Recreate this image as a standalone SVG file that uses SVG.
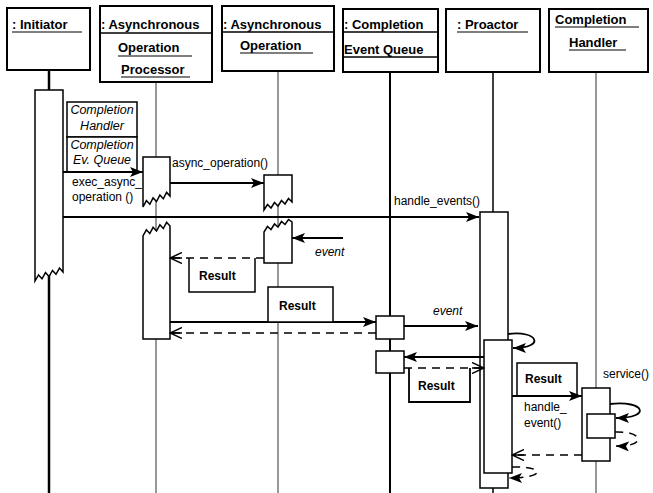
<svg xmlns="http://www.w3.org/2000/svg" width="653" height="493" viewBox="0 0 653 493">
<style>
.box{fill:#fff;stroke:#000;stroke-width:2}
.act{fill:#fff;stroke:#000;stroke-width:1.5}
.ln{fill:none;stroke:#000}
.thin{fill:none;stroke:#333;stroke-width:1}
.msg{fill:none;stroke:#000;stroke-width:1.8}
.ret{fill:none;stroke:#000;stroke-width:1.5;stroke-dasharray:8,6}
.h{font-family:"Liberation Sans",Arial,sans-serif;font-size:13px;font-weight:bold;fill:#000}
.t{font-family:"Liberation Sans",Arial,sans-serif;font-size:12px;fill:#000}
.i{font-family:"Liberation Sans",Arial,sans-serif;font-size:12px;font-style:italic;fill:#000}
.ci{font-family:"Liberation Sans",Arial,sans-serif;font-size:12.5px;font-style:italic;fill:#000}
.b{font-family:"Liberation Sans",Arial,sans-serif;font-size:12px;font-weight:bold;fill:#000}
</style>
<defs>
<marker id="fa" viewBox="0 0 13 10" refX="13" refY="5" markerWidth="13" markerHeight="10" orient="auto" markerUnits="userSpaceOnUse"><path d="M0,0 L13,5 L0,10 L3,5 Z" fill="#000"/></marker>
<marker id="oa" viewBox="0 0 13 12" refX="12" refY="6" markerWidth="13" markerHeight="12" orient="auto" markerUnits="userSpaceOnUse"><path d="M0,0.5 L12,6 L0,11.5 M0,6 H12" fill="none" stroke="#000" stroke-width="1.5"/></marker>
</defs>
<rect width="653" height="493" fill="#fff"/>

<g id="initiator">
<line class="ln" x1="49" y1="70" x2="49" y2="90" stroke-width="2.5"/>
<line class="ln" x1="49" y1="274" x2="49" y2="493" stroke-width="2.5"/>
<rect class="box" x="7" y="8" width="83" height="62"/>
<text class="h" x="12" y="29">: Initiator</text>
<line class="ln" x1="12" y1="32" x2="82" y2="32" stroke-width="1.2"/>
<path class="act" d="M63,272 V90 H35 V281 L38.5,274.9 L42,278.8 L45.5,272.6 L49,276.5 L52.5,270.4 L56,274.3 L59.5,268.1 L63,272 Z"/>
</g>

<g id="aop">
<line class="thin" x1="156" y1="82" x2="156" y2="493"/>
<rect class="box" x="100" y="6" width="112" height="76"/>
<line class="ln" x1="100" y1="33" x2="212" y2="33" stroke-width="1.5"/>
<text class="h" x="101" y="29">: Asynchronous</text>
<text class="h" x="118" y="52">Operation</text>
<line class="ln" x1="118" y1="56" x2="192" y2="56" stroke-width="1.2"/>
<text class="h" x="121" y="74">Processor</text>
<line class="ln" x1="121" y1="77" x2="190" y2="77" stroke-width="1.2"/>
<path class="act" d="M170,196 V157 H143 V207 L146.4,200.6 L149.8,204.3 L153.1,197.9 L156.5,201.5 L159.9,195.1 L163.3,198.8 L166.6,192.4 L170,196 Z"/>
<path class="act" d="M143,339 V236 L146.4,229.8 L149.8,233.5 L153.1,227.3 L156.5,231 L159.9,224.8 L163.3,228.5 L166.6,222.3 L170,226 V339 Z"/>
</g>

<g id="ao">
<line class="thin" x1="278" y1="71" x2="278" y2="493"/>
<rect class="box" x="222" y="6" width="112" height="65"/>
<line class="ln" x1="222" y1="32" x2="334" y2="32" stroke-width="1.5"/>
<text class="h" x="223" y="29">: Asynchronous</text>
<text class="h" x="240" y="50">Operation</text>
<line class="ln" x1="240" y1="53" x2="313" y2="53" stroke-width="1.2"/>
<path class="act" d="M292,202 V175 H264 V210 L267.5,204.5 L271,208 L274.5,202.5 L278,206 L281.5,200.5 L285,204 L288.5,198.5 L292,202 Z"/>
<path class="act" d="M264,263 V232 L267.5,226.5 L271,229.5 L274.5,224 L278,227 L281.5,221.5 L285,224.5 L288.5,219.5 L292,222 V263 Z"/>
</g>

<g id="ceq">
<line class="ln" x1="390" y1="72" x2="390" y2="493" stroke-width="2"/>
<rect class="box" x="343" y="9" width="95" height="63"/>
<line class="ln" x1="343" y1="32" x2="438" y2="32" stroke-width="1.5"/>
<line class="ln" x1="343" y1="57" x2="438" y2="57" stroke-width="1.5"/>
<text class="h" x="344" y="29">: Completion</text>
<text class="h" x="344" y="54">Event Queue</text>
<rect class="act" x="376" y="316" width="28" height="23"/>
<rect class="act" x="376" y="351" width="28" height="22"/>
</g>

<g id="proactor">
<line class="ln" x1="493" y1="72" x2="493" y2="493" stroke-width="1.5"/>
<rect class="box" x="446" y="9" width="94" height="63"/>
<text class="h" x="457" y="29">: Proactor</text>
<line class="ln" x1="457" y1="32" x2="528" y2="32" stroke-width="1.2"/>
<rect class="act" x="480" y="212" width="28" height="276"/>
<rect class="act" x="484" y="340" width="28" height="133"/>
</g>

<g id="handler">
<line class="thin" x1="596" y1="72" x2="596" y2="493"/>
<rect class="box" x="549" y="9" width="99" height="63"/>
<text class="h" x="555" y="24">Completion</text>
<line class="ln" x1="555" y1="27" x2="639" y2="27" stroke-width="1.2"/>
<text class="h" x="569" y="47">Handler</text>
<line class="ln" x1="569" y1="50" x2="626" y2="50" stroke-width="1.2"/>
<rect class="act" x="582" y="388" width="28" height="73"/>
<rect class="act" x="587" y="414" width="28" height="24"/>
</g>

<g id="params">
<rect class="act" x="67" y="102" width="70" height="35"/>
<rect class="act" x="67" y="137" width="70" height="35"/>
<text class="ci" x="102" y="114" text-anchor="middle">Completion</text>
<text class="ci" x="102" y="130" text-anchor="middle">Handler</text>
<text class="ci" x="102" y="149" text-anchor="middle">Completion</text>
<text class="ci" x="102" y="164" text-anchor="middle">Ev. Queue</text>
</g>

<g id="connectors">
<path class="msg" d="M63,172 H143" marker-end="url(#fa)"/>
<path class="msg" d="M170,183 H264" marker-end="url(#fa)"/>
<path class="msg" d="M63,217 H479" stroke-width="2" marker-end="url(#fa)"/>
<path class="msg" d="M343,238 H292" marker-end="url(#fa)"/>
<path class="ret" d="M264,258 H170" marker-end="url(#oa)"/>
<path class="ln" d="M189,258 V292 H255 V258" stroke-width="1.5"/>
<path class="msg" d="M170,322 H376" marker-end="url(#fa)"/>
<rect class="act" x="268" y="287" width="65" height="35" stroke-width="2"/>
<path class="ret" d="M376,333 H170" marker-end="url(#oa)"/>
<path class="msg" d="M404,326 H478" stroke-width="2.2" marker-end="url(#fa)"/>
<path class="msg" d="M508,334 C538,330 546,348 513,348" stroke-width="2" marker-end="url(#fa)"/>
<path class="msg" d="M484,357 H404" stroke-width="2.5" marker-end="url(#fa)"/>
<path class="ret" d="M404,368 H484" marker-end="url(#oa)"/>
<path class="ln" d="M409,368 V402 H470 V368" stroke-width="1.8"/>
<rect class="act" x="517" y="363" width="60" height="33"/>
<path class="msg" d="M512,396 H582" stroke-width="2.2" marker-end="url(#fa)"/>
<path class="msg" d="M610,404 C645,400 652,418 616,418" stroke-width="2" marker-end="url(#fa)"/>
<path class="ret" d="M615,432 C645,431 646,447 616,446" stroke-dasharray="6,7" marker-end="url(#fa)"/>
<path class="ret" d="M582,455 H512" marker-end="url(#oa)"/>
<path class="ret" d="M512,467 C546,466 546,478 509,478" stroke-dasharray="7,8" marker-end="url(#fa)"/>
</g>

<g id="labels">
<text class="t" x="72" y="186">exec_async_</text>
<text class="t" x="72" y="201">operation ()</text>
<text class="t" x="172" y="167">async_operation()</text>
<text class="t" x="394" y="205">handle_events()</text>
<text class="i" x="315" y="256">event</text>
<text class="b" x="199" y="280">Result</text>
<text class="b" x="279" y="310">Result</text>
<text class="i" x="433" y="315">event</text>
<text class="b" x="418" y="390">Result</text>
<text class="b" x="525" y="383">Result</text>
<text class="t" x="524" y="411">handle_</text>
<text class="t" x="524" y="427">event()</text>
<text class="t" x="603" y="378">service()</text>
</g>
</svg>
